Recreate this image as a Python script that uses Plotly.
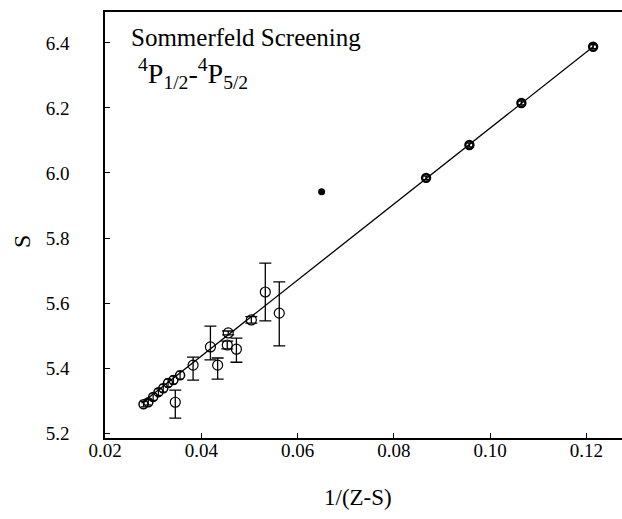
import plotly.graph_objects as go

# Data
# low-x cluster (small uncertainties)
cluster_x = [0.0280, 0.0290, 0.0300, 0.0311, 0.0321, 0.0331, 0.0342, 0.0356]
cluster_y = [5.289, 5.295, 5.311, 5.326, 5.338, 5.354, 5.363, 5.378]
cluster_err = [0.008, 0.008, 0.010, 0.010, 0.012, 0.012, 0.012, 0.012]

# points with visible error bars
mid_x = [0.0346, 0.0383, 0.0419, 0.0434, 0.0454, 0.0456, 0.0473, 0.0504, 0.0533, 0.0562]
mid_y = [5.295, 5.409, 5.465, 5.409, 5.471, 5.508, 5.458, 5.548, 5.634, 5.569]
mid_up = [0.037, 0.025, 0.064, 0.022, 0.012, 0.006, 0.034, 0.010, 0.089, 0.096]
mid_dn = [0.049, 0.046, 0.040, 0.043, 0.012, 0.006, 0.040, 0.010, 0.089, 0.101]

# high-x points
high_x = [0.0867, 0.0957, 0.1065, 0.1214]
high_y = [5.985, 6.086, 6.215, 6.388]
high_err = [0.006, 0.006, 0.006, 0.006]

# stray filled point
blob_x = [0.0650]
blob_y = [5.942]

# fitted line endpoints
fit_x = [0.0276, 0.1214]
fit_y = [5.292, 6.388]

x_ticks = [0.02, 0.04, 0.06, 0.08, 0.10, 0.12]
x_ticktext = ["0.02", "0.04", "0.06", "0.08", "0.10", "0.12"]
y_ticks = [5.2, 5.4, 5.6, 5.8, 6.0, 6.2, 6.4]
y_ticktext = ["5.2", "5.4", "5.6", "5.8", "6.0", "6.2", "6.4"]

FONT = "Liberation Serif"

fig = go.Figure()

fig.add_trace(go.Scatter(
    x=fit_x, y=fit_y, mode="lines",
    line=dict(color="black", width=1.3), showlegend=False, hoverinfo="skip"))

fig.add_trace(go.Scatter(
    x=cluster_x, y=cluster_y, mode="markers",
    marker=dict(symbol="circle-open", size=9, color="black", line=dict(width=1.5)),
    error_y=dict(type="data", array=cluster_err, color="black", thickness=1.2, width=3),
    showlegend=False))

fig.add_trace(go.Scatter(
    x=mid_x, y=mid_y, mode="markers",
    marker=dict(symbol="circle-open", size=10, color="black", line=dict(width=1.2)),
    error_y=dict(type="data", symmetric=False, array=mid_up, arrayminus=mid_dn,
                 color="black", thickness=1.3, width=6),
    showlegend=False))

fig.add_trace(go.Scatter(
    x=high_x, y=high_y, mode="markers",
    marker=dict(symbol="circle-open", size=8, color="black", line=dict(width=2.4)),
    error_y=dict(type="data", array=high_err, color="black", thickness=1.5, width=4),
    showlegend=False))

fig.add_trace(go.Scatter(
    x=blob_x, y=blob_y, mode="markers",
    marker=dict(symbol="circle", size=7, color="black"),
    showlegend=False))

axis_common = dict(
    showgrid=False, zeroline=False, showline=True, linecolor="black", linewidth=1.5,
    ticks="inside", ticklen=5, tickcolor="black", tickwidth=1,
    tickfont=dict(family=FONT, size=19, color="black"),
)

fig.update_xaxes(range=[0.02, 0.1274], tickvals=x_ticks, ticktext=x_ticktext,
                 mirror=True, ticklabelstandoff=-6, **axis_common)
fig.update_yaxes(range=[5.185, 6.495], tickvals=y_ticks, ticktext=y_ticktext,
                 mirror=False, ticklabelstandoff=30, **axis_common)

fig.add_annotation(text="Sommerfeld Screening", xref="paper", yref="paper",
                   x=0.046, y=0.939, xanchor="left", yanchor="middle", showarrow=False,
                   font=dict(family=FONT, size=25, color="black"))
fig.add_annotation(text="<sup>4</sup>P<sub>1/2</sub>-<sup>4</sup>P<sub>5/2</sub>",
                   xref="paper", yref="paper",
                   x=0.060, y=0.855, xanchor="left", yanchor="middle", showarrow=False,
                   font=dict(family=FONT, size=28, color="black"))
fig.add_annotation(text="1/(Z-S)", xref="paper", yref="paper",
                   x=0.49, y=-0.1385, xanchor="center", yanchor="middle", showarrow=False,
                   font=dict(family=FONT, size=23, color="black"))
fig.add_annotation(text="S", xref="paper", yref="paper", textangle=-90,
                   x=-0.1605, y=0.46, xanchor="center", yanchor="middle", showarrow=False,
                   font=dict(family=FONT, size=24, color="black"))

fig.update_layout(
    width=622, height=519,
    margin=dict(l=105, r=0, t=12, b=81),
    paper_bgcolor="white", plot_bgcolor="white",
)

fig.write_html("out.html")
